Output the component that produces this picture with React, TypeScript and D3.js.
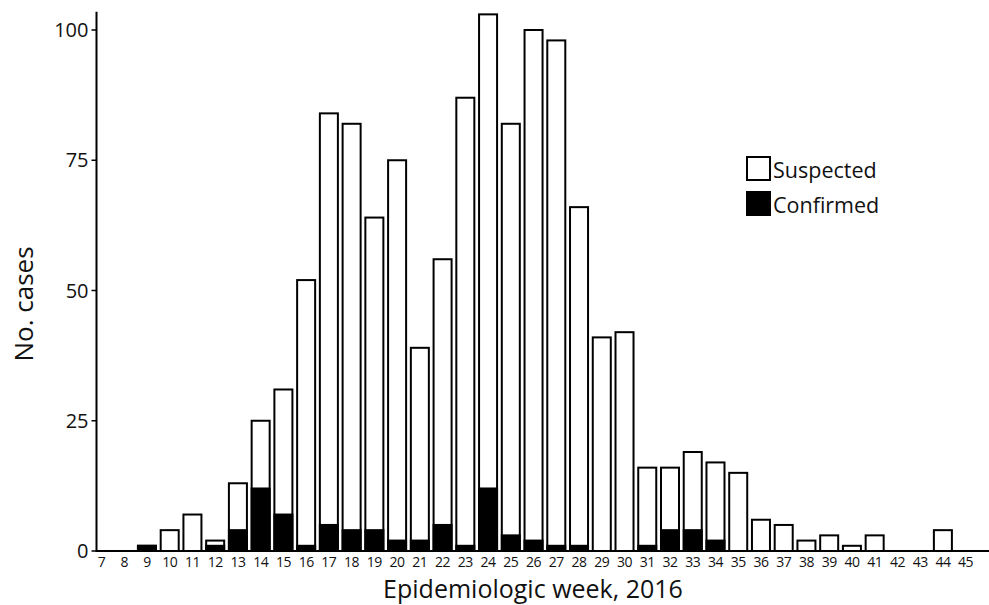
import React from "react";
import * as d3 from "d3";

const weeks = [7,8,9,10,11,12,13,14,15,16,17,18,19,20,21,22,23,24,25,26,27,28,29,30,31,32,33,34,35,36,37,38,39,40,41,42,43,44,45];
const totalCases = [0,0,1,4,7,2,13,25,31,52,84,82,64,75,39,56,87,103,82,100,98,66,41,42,16,16,19,17,15,6,5,2,3,1,3,0,0,4,0];
const confirmedCases = [0,0,1,0,0,1,4,12,7,1,5,4,4,2,2,5,1,12,3,2,1,1,0,0,1,4,4,2,0,0,0,0,0,0,0,0,0,0,0];
const yTicks = [0,25,50,75,100];
const legendItems = [{ label: "Suspected", fill: "#fff" }, { label: "Confirmed", fill: "#000" }];

const W = 989, H = 605;
const FONT = "'Open Sans', 'Noto Sans', sans-serif";

export default function App() {
  const x = d3.scaleBand<number>().domain(weeks).range([90.1, 977]).paddingInner(0.12).paddingOuter(0.06);
  const y = d3.scaleLinear().domain([0, 100]).range([551, 30]);
  const axisX = 96.5;
  const bw = x.bandwidth();
  return (
    <svg width={W} height={H} style={{ position: "absolute", left: 0, top: 0, background: "#fff" }} fontFamily={FONT}>
      {weeks.map((w, i) => {
        const t = totalCases[i];
        const c = confirmedCases[i];
        const x0 = x(w)!;
        return (
          <g key={w}>
            {t > 0 && (
              <rect x={x0 + 1} y={y(t)} width={bw - 2} height={y(0) - y(t)} fill="#fff" stroke="#000" strokeWidth={2} />
            )}
            {c > 0 && (
              <rect x={x0 + 1} y={y(c)} width={bw - 2} height={y(0) - y(c)} fill="#000" stroke="#000" strokeWidth={2} />
            )}
            <text x={x0 + bw / 2} y={566.5} textAnchor="middle" fontSize={14} letterSpacing={-0.5} fill="#111">{w}</text>
          </g>
        );
      })}
      <line x1={axisX} x2={989} y1={y(0)} y2={y(0)} stroke="#000" strokeWidth={2} />
      <line x1={axisX} x2={axisX} y1={y(0) + 1} y2={y(103.5)} stroke="#000" strokeWidth={2} />
      {yTicks.map((t) => (
        <g key={t}>
          <line x1={axisX - 5} x2={axisX} y1={y(t)} y2={y(t)} stroke="#000" strokeWidth={1.5} />
          <text x={axisX - 8} y={y(t)} dy="0.36em" textAnchor="end" fontSize={20} fill="#111">{t}</text>
        </g>
      ))}
      <text transform={`translate(33,${304}) rotate(-90)`} textAnchor="middle" fontSize={26} fill="#111">No. cases</text>
      <text x={533} y={597.5} textAnchor="middle" fontSize={25} fill="#111">Epidemiologic week, 2016</text>
      {legendItems.map((d, i) => (
        <g key={d.label} transform={`translate(747,${157 + i * 35})`}>
          <rect x={0} y={0} width={23} height={23} fill={d.fill} stroke="#000" strokeWidth={2} />
          <text x={26} y={21} fontSize={21.5} fill="#111">{d.label}</text>
        </g>
      ))}
    </svg>
  );
}
